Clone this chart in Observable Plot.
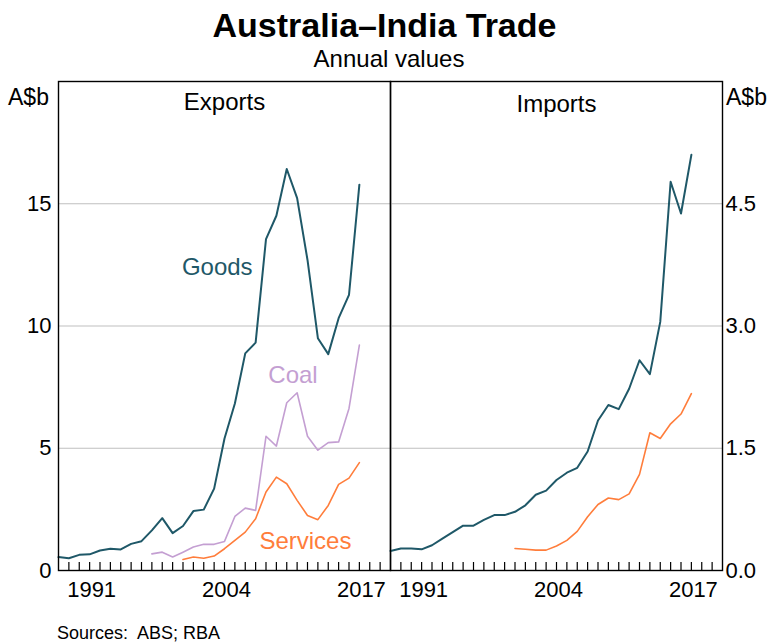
<!DOCTYPE html>
<html><head><meta charset="utf-8">
<script src="https://cdn.jsdelivr.net/npm/d3@7"></script>
<script src="https://cdn.jsdelivr.net/npm/@observablehq/plot@0.6"></script>
<style>
body{margin:0;background:#fff;font-family:"Liberation Sans",Arial,sans-serif;}
#wrap{position:relative;width:769px;height:644px;overflow:hidden;background:#fff;}
#wrap svg{position:absolute;top:0;}
.t{position:absolute;white-space:pre;color:#000;line-height:1;}
</style></head><body>
<div id="wrap"></div>
<script>
// ---- data (A$ billion, annual) ----
const goodsYears = [1988,1989,1990,1991,1992,1993,1994,1995,1996,1997,1998,1999,2000,2001,2002,2003,2004,2005,2006,2007,2008,2009,2010,2011,2012,2013,2014,2015,2016,2017];
const goodsExports = [0.55,0.50,0.64,0.66,0.82,0.89,0.86,1.09,1.20,1.64,2.14,1.53,1.82,2.43,2.49,3.35,5.40,6.83,8.88,9.32,13.55,14.51,16.42,15.23,12.70,9.50,8.85,10.32,11.27,15.78];
const coalYears = [1997,1998,1999,2000,2001,2002,2003,2004,2005,2006,2007,2008,2009,2010,2011,2012,2013,2014,2015,2016,2017];
const coalExports = [0.68,0.75,0.55,0.75,0.96,1.07,1.07,1.19,2.21,2.55,2.46,5.49,5.09,6.86,7.27,5.49,4.92,5.23,5.26,6.63,9.22];
const servicesYears = [2000,2001,2002,2003,2004,2005,2006,2007,2008,2009,2010,2011,2012,2013,2014,2015,2016,2017];
const servicesExports = [0.45,0.55,0.50,0.59,0.89,1.23,1.57,2.12,3.21,3.82,3.55,2.87,2.25,2.08,2.66,3.52,3.78,4.41];
const goodsImports = [0.24,0.27,0.27,0.26,0.31,0.39,0.47,0.55,0.55,0.62,0.68,0.68,0.72,0.80,0.93,0.98,1.11,1.20,1.26,1.46,1.84,2.03,1.98,2.23,2.58,2.41,3.05,4.77,4.38,5.10];
const servicesImports = [0.27,0.26,0.25,0.25,0.30,0.37,0.48,0.66,0.81,0.89,0.87,0.94,1.18,1.69,1.62,1.80,1.92,2.17];
const tickYears = [1989,1990,1991,1992,1993,1994,1995,1996,1997,1998,1999,2000,2001,2002,2003,2004,2005,2006,2007,2008,2009,2010,2011,2012,2013,2014,2015,2016,2017,2018,2019];
const yearLabels = [1991, 2004, 2017];
const leftTicks = [0, 5, 10, 15];
const rightTicks = [0, 1.5, 3, 4.5];

const rows = (xs, vs) => xs.map((year, i) => ({year, value: vs[i]}));
const FONT = '"Liberation Sans", Arial, sans-serif';
const C_GOODS = "#1f5868", C_COAL = "#c49fd2", C_SERV = "#ff7d3b", GRID = "#bfbfbf";

const wrap = document.getElementById("wrap");

const left = Plot.plot({
  width: 391, height: 644,
  marginLeft: 58, marginRight: 1, marginTop: 81, marginBottom: 74,
  x: {domain: [1988, 2020], label: null},
  y: {domain: [0, 20], label: null},
  style: {fontFamily: FONT, fontSize: "22px", background: "transparent", overflow: "visible", color: "#000"},
  marks: [
    Plot.ruleY(leftTicks.filter(d => d > 0), {stroke: GRID, strokeWidth: 1.2}),
    Plot.ruleX(tickYears, {stroke: "#000", strokeWidth: 1.2, insetTop: 481}),
    Plot.lineY(rows(coalYears, coalExports), {x: "year", y: "value", stroke: C_COAL, strokeWidth: 1.6}),
    Plot.lineY(rows(servicesYears, servicesExports), {x: "year", y: "value", stroke: C_SERV, strokeWidth: 1.6}),
    Plot.lineY(rows(goodsYears, goodsExports), {x: "year", y: "value", stroke: C_GOODS, strokeWidth: 2}),
    Plot.text(["Goods"], {x: 2003.3, y: 12.4, text: d => d, fill: C_GOODS, fontSize: 24}),
    Plot.text(["Coal"], {x: 2010.6, y: 8.0, text: d => d, fill: C_COAL, fontSize: 24}),
    Plot.text(["Services"], {x: 2011.8, y: 1.19, text: d => d, fill: C_SERV, fontSize: 24}),
    Plot.text(["Exports"], {frameAnchor: "top", lineAnchor: "top", dy: 11, text: d => d, fill: "#000", fontSize: 24}),
    Plot.frame({stroke: "#000", strokeWidth: 1.4}),
    Plot.axisY({ticks: leftTicks, tickSize: 0, tickPadding: 7, fontSize: 22, fill: "#000"}),
    Plot.axisX({ticks: yearLabels, tickSize: 0, tickPadding: 11, dx: 2, tickFormat: d => String(d), fontSize: 22, fill: "#000"})
  ]
});
left.style.left = "0px";
wrap.appendChild(left);

const right = Plot.plot({
  width: 380, height: 644,
  marginLeft: 1, marginRight: 47, marginTop: 81, marginBottom: 74,
  x: {domain: [1988, 2020], label: null},
  y: {domain: [0, 6], label: null},
  style: {fontFamily: FONT, fontSize: "22px", background: "transparent", overflow: "visible", color: "#000"},
  marks: [
    Plot.ruleY(rightTicks.filter(d => d > 0), {stroke: GRID, strokeWidth: 1.2}),
    Plot.ruleX(tickYears, {stroke: "#000", strokeWidth: 1.2, insetTop: 481}),
    Plot.lineY(rows(servicesYears, servicesImports), {x: "year", y: "value", stroke: C_SERV, strokeWidth: 1.6}),
    Plot.lineY(rows(goodsYears, goodsImports), {x: "year", y: "value", stroke: C_GOODS, strokeWidth: 2}),
    Plot.text(["Imports"], {frameAnchor: "top", lineAnchor: "top", dy: 13, text: d => d, fill: "#000", fontSize: 24}),
    Plot.frame({stroke: "#000", strokeWidth: 1.4}),
    Plot.axisY({anchor: "right", ticks: rightTicks, tickSize: 0, tickPadding: 3, tickFormat: d => d.toFixed(1), fontSize: 22, fill: "#000"}),
    Plot.axisX({ticks: yearLabels, tickSize: 0, tickPadding: 11, dx: 2, tickFormat: d => String(d), fontSize: 22, fill: "#000"})
  ]
});
right.style.left = "389px";
wrap.appendChild(right);

function addText(txt, css) {
  const d = document.createElement("div");
  d.className = "t";
  d.textContent = txt;
  d.setAttribute("style", css);
  wrap.appendChild(d);
}
addText("Australia–India Trade", "left:0;width:769px;text-align:center;top:8px;font-size:34px;font-weight:bold;");
addText("Annual values", "left:0;width:778px;text-align:center;top:47px;font-size:24px;");
addText("A$b", "left:8px;top:86px;font-size:23px;");
addText("A$b", "left:726px;top:86px;font-size:23px;");
addText("Sources:  ABS; RBA", "left:57px;top:624px;font-size:18px;");
</script>
</body></html>
